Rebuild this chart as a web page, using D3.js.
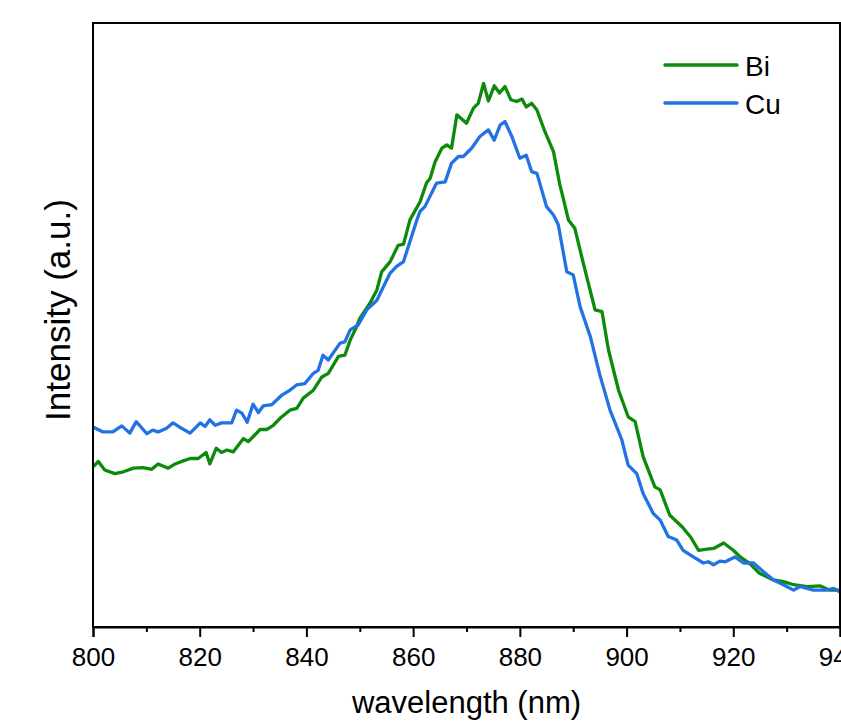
<!DOCTYPE html>
<html>
<head>
<meta charset="utf-8">
<script src="https://cdn.jsdelivr.net/npm/d3@7"></script>
<style>
  body { margin: 0; background: #ffffff; }
  svg { display: block; }
</style>
</head>
<body>
<script>
// spectra (wavelength in nm, intensity in arbitrary units)
var biWavelength = [800.0, 801.0, 802.2, 804.1, 805.7, 807.6, 809.4, 811.0, 812.2, 814.1, 815.4, 816.9, 818.2, 819.7,
  821.2, 821.9, 823.1, 824.1, 825.1, 826.3, 828.2, 829.1, 830.0, 831.3, 832.6, 833.8, 835.1, 836.9, 838.2, 839.4,
  841.3, 842.9, 844.1, 846.0, 847.2, 848.2, 849.4, 850.0, 851.9, 853.2, 854.1, 855.7, 857.2, 858.2, 859.4, 861.3,
  862.5, 863.2, 864.1, 865.4, 866.3, 867.2, 868.2, 870.0, 871.3, 872.2, 873.2, 874.1, 875.2, 876.2, 877.2, 878.3,
  879.4, 880.4, 881.2, 882.2, 883.2, 884.7, 886.3, 887.5, 888.2, 889.1, 890.3, 891.9, 894.1, 895.4, 896.6, 898.5,
  900.3, 901.6, 903.1, 905.3, 906.3, 908.1, 910.4, 912.0, 913.5, 915.1, 916.3, 918.2, 920.0, 921.3, 923.1, 924.9,
  927.5, 929.4, 931.3, 933.8, 936.3, 938.1, 940.0];
var biIntensity = [26.5, 27.4, 26.0, 25.4, 25.7, 26.3, 26.4, 26.1, 27.0, 26.3, 27.0, 27.5, 27.9, 27.9,
  28.9, 27.0, 29.6, 28.9, 29.3, 29.0, 31.2, 30.7, 31.5, 32.7, 32.7, 33.4, 34.6, 35.9, 36.2, 37.9,
  39.2, 41.4, 42.0, 44.8, 45.0, 47.5, 49.7, 51.1, 53.6, 55.8, 58.8, 60.5, 63.2, 63.4, 67.4, 70.4,
  73.5, 74.3, 77.0, 79.3, 79.8, 79.3, 84.8, 83.4, 85.9, 86.7, 90.0, 87.1, 89.6, 88.4, 89.5, 87.3,
  87.0, 87.4, 86.1, 86.7, 85.6, 82.0, 78.7, 73.2, 70.7, 67.4, 66.0, 60.2, 52.5, 52.2, 45.9, 39.2,
  34.8, 34.0, 28.2, 23.2, 22.7, 18.5, 16.6, 14.9, 12.7, 12.9, 13.0, 13.9, 12.7, 11.6, 10.5, 8.9,
  7.8, 7.5, 7.0, 6.7, 6.8, 6.1, 6.1];

var cuWavelength = [800.0, 801.9, 803.7, 805.4, 806.9, 808.1, 810.1, 811.2, 812.2, 813.8, 815.0, 816.6, 818.2, 820.1,
  821.0, 821.9, 822.9, 824.1, 826.0, 826.9, 827.9, 828.9, 830.0, 831.0, 831.9, 833.5, 835.4, 836.9, 838.2, 839.7,
  841.3, 842.2, 843.1, 844.1, 846.3, 847.2, 848.2, 849.7, 851.3, 853.2, 854.4, 855.7, 856.9, 858.2, 859.1, 860.7,
  861.3, 862.2, 864.4, 866.0, 867.2, 868.5, 869.4, 871.0, 872.5, 874.1, 875.2, 876.3, 877.2, 878.5, 880.0, 881.2,
  882.2, 883.2, 885.0, 886.3, 887.2, 888.8, 890.0, 891.3, 893.2, 895.0, 896.9, 899.1, 900.3, 901.9, 903.1, 905.0,
  906.3, 907.8, 909.4, 910.6, 912.5, 914.4, 915.3, 916.3, 917.5, 918.5, 920.3, 921.9, 923.8, 925.6, 927.5, 929.4,
  931.3, 932.5, 935.0, 937.5, 938.8, 940.0];
var cuIntensity = [33.1, 32.3, 32.3, 33.3, 32.1, 34.0, 32.0, 32.6, 32.3, 32.9, 33.8, 32.9, 32.1, 33.8,
  33.2, 34.3, 33.4, 33.8, 33.8, 35.9, 35.4, 33.9, 36.9, 35.5, 36.6, 36.8, 38.4, 39.2, 40.1, 40.3,
  42.0, 42.5, 45.0, 44.2, 47.0, 47.2, 49.2, 50.0, 52.5, 54.1, 56.3, 58.6, 59.7, 60.5, 63.0, 67.4,
  68.8, 69.6, 73.5, 73.7, 76.8, 77.9, 77.9, 79.3, 81.2, 82.3, 80.6, 83.1, 83.7, 81.2, 77.6, 78.1,
  75.4, 75.1, 69.6, 68.2, 66.6, 58.8, 58.3, 53.0, 48.1, 41.7, 35.9, 31.0, 26.8, 25.4, 22.1, 18.8,
  17.7, 15.0, 14.4, 12.7, 11.6, 10.6, 10.8, 10.3, 10.9, 10.8, 11.6, 10.6, 10.6, 9.2, 7.8, 7.0,
  6.1, 6.7, 6.1, 6.1, 6.4, 5.8];

var seriesNames = ["Bi", "Cu"];
var seriesColors = ["#0c8a0c", "#2272e4"];
var majorTicks = [800, 820, 840, 860, 880, 900, 920, 940];
var minorTicks = [810, 830, 850, 870, 890, 910, 930];

var width = 841, height = 722;
var margin = {top: 23, right: 1, bottom: 95, left: 93};
var fontFamily = "Arial, 'Liberation Sans', sans-serif";

var svg = d3.select("body").append("svg")
  .attr("width", width)
  .attr("height", height);

var x = d3.scaleLinear().domain([800, 940]).range([margin.left, width - margin.right]);
var y = d3.scaleLinear().domain([0, 100]).range([height - margin.bottom, margin.top]);

// one array of [wavelength, intensity] per series
var series = [
  biWavelength.map(function(d, i){ return [d, biIntensity[i]]; }),
  cuWavelength.map(function(d, i){ return [d, cuIntensity[i]]; })
];

svg.append("clipPath").attr("id", "plotclip")
  .append("rect")
  .attr("x", margin.left)
  .attr("y", margin.top)
  .attr("width", x(940) - margin.left)
  .attr("height", y(0) - margin.top);

var line = d3.line()
  .x(function(d){ return x(d[0]); })
  .y(function(d){ return y(d[1]); });

// curves (Cu drawn last, it sits on top at the tail)
svg.append("g").attr("clip-path", "url(#plotclip)")
  .selectAll("path").data(series).enter().append("path")
  .attr("d", line)
  .attr("fill", "none")
  .attr("stroke", function(d, i){ return seriesColors[i]; })
  .attr("stroke-width", 3.3)
  .attr("stroke-linejoin", "round");

// frame around the plot
svg.append("rect")
  .attr("x", margin.left)
  .attr("y", margin.top)
  .attr("width", x(940) - margin.left)
  .attr("height", y(0) - margin.top)
  .attr("fill", "none")
  .attr("stroke", "#000000")
  .attr("stroke-width", 2);

// bottom axis, major ticks with labels
var xAxis = svg.append("g")
  .attr("transform", "translate(0," + y(0) + ")")
  .call(d3.axisBottom(x).tickValues(majorTicks).tickSize(10).tickPadding(11).tickFormat(d3.format("d")));
xAxis.select(".domain").attr("stroke-width", 2);
xAxis.selectAll(".tick line").attr("stroke-width", 2);
xAxis.selectAll(".tick text")
  .attr("font-family", fontFamily)
  .attr("font-size", "26px")
  .attr("fill", "#000000");

// minor ticks
svg.append("g")
  .attr("transform", "translate(0," + y(0) + ")")
  .call(d3.axisBottom(x).tickValues(minorTicks).tickSize(5).tickFormat(""))
  .call(function(g){ g.select(".domain").remove(); })
  .selectAll(".tick line").attr("stroke-width", 2);

// axis titles
svg.append("text")
  .attr("x", (margin.left + x(940)) / 2)
  .attr("y", 713)
  .attr("text-anchor", "middle")
  .attr("font-family", fontFamily)
  .attr("font-size", "31px")
  .text("wavelength (nm)");

svg.append("text")
  .attr("transform", "translate(70,310) rotate(-90)")
  .attr("text-anchor", "middle")
  .attr("font-family", fontFamily)
  .attr("font-size", "35px")
  .text("Intensity (a.u.)");

// legend
var legend = svg.append("g").selectAll("g").data(seriesNames).enter().append("g")
  .attr("transform", function(d, i){ return "translate(665," + (65 + i * 38) + ")"; });
legend.append("line")
  .attr("x1", 0).attr("x2", 72)
  .attr("y1", 0).attr("y2", 0)
  .attr("stroke", function(d, i){ return seriesColors[i]; })
  .attr("stroke-width", 3.5)
  .attr("stroke-linecap", "round");
legend.append("text")
  .attr("x", 80)
  .attr("y", 11)
  .attr("font-family", fontFamily)
  .attr("font-size", "28px")
  .text(function(d){ return d; });
</script>
</body>
</html>
